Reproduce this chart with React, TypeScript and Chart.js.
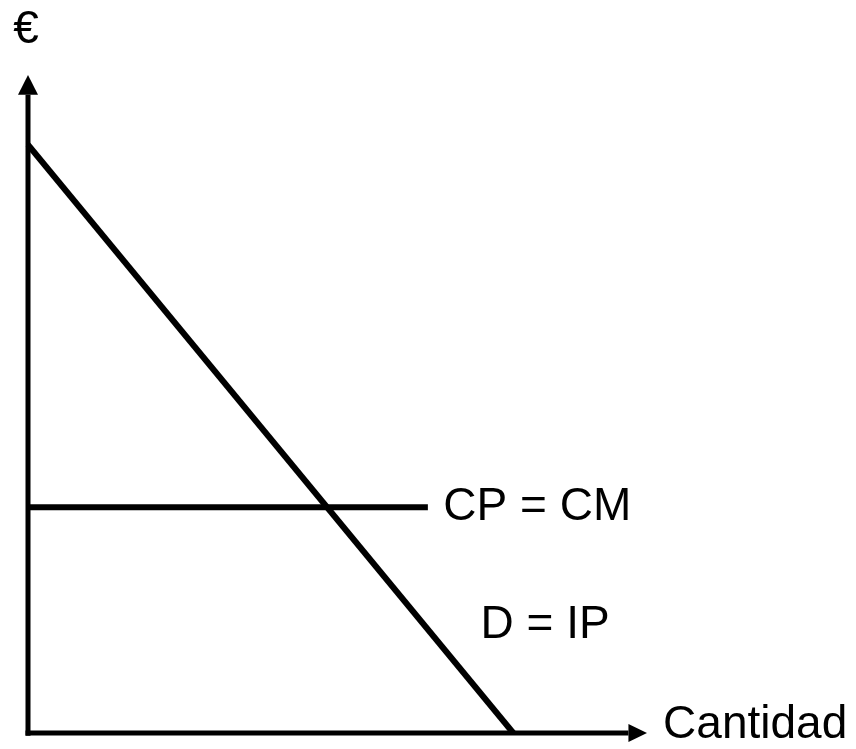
import React, { useEffect, useRef } from "react";
import { Chart, registerables } from "chart.js";

Chart.register(...registerables);

// Demand line D = IP
const demandX = [0, 78.4];
const demandY = [89.4, 0];
// Horizontal cost line CP = CM
const costX = [0, 64.6];
const costY = [34.3, 34.3];
// Axes
const axisMax = 100;
const arrowBase = 97;

const labelTexts = ["CP = CM", "D = IP", "Cantidad", "€"];
const labelX = [67.1, 73.1, 102.6, -2.4];
const labelY = [34.3, 16.4, 1.1, 106.8];

const FONT = '46px "Liberation Sans", Arial, sans-serif';

export default function App() {
  const ref = useRef<HTMLCanvasElement>(null);
  useEffect(() => {
    const canvas = ref.current!;
    const toPts = (xs: number[], ys: number[]) => xs.map((x, i) => ({ x, y: ys[i] }));

    const overlay = {
      id: "overlay",
      afterDatasetsDraw(chart: any) {
        const { ctx, scales } = chart;
        const sx = scales.x;
        const sy = scales.y;
        ctx.save();
        ctx.fillStyle = "#000";
        // y arrowhead
        const ox = sx.getPixelForValue(0);
        const oy = sy.getPixelForValue(0);
        const yTip = sy.getPixelForValue(axisMax);
        const yBase = sy.getPixelForValue(arrowBase);
        ctx.beginPath();
        ctx.moveTo(ox, yTip);
        ctx.lineTo(ox - 10, yBase);
        ctx.lineTo(ox + 10, yBase);
        ctx.closePath();
        ctx.fill();
        // x arrowhead
        const xTip = sx.getPixelForValue(axisMax);
        const xBase = sx.getPixelForValue(arrowBase);
        ctx.beginPath();
        ctx.moveTo(xTip, oy);
        ctx.lineTo(xBase, oy - 9);
        ctx.lineTo(xBase, oy + 9);
        ctx.closePath();
        ctx.fill();
        // labels
        ctx.font = FONT;
        ctx.textAlign = "left";
        ctx.textBaseline = "middle";
        labelTexts.forEach((t, i) => {
          ctx.fillText(t, sx.getPixelForValue(labelX[i]), sy.getPixelForValue(labelY[i]));
        });
        ctx.restore();
      },
    };

    const lineDs = (data: any[], w: number) => ({
      data,
      borderColor: "#000",
      borderWidth: w,
      pointRadius: 0,
      fill: false,
      tension: 0,
      clip: false as any,
      borderCapStyle: "butt" as const,
    });

    const chart = new Chart(canvas, {
      type: "line",
      data: {
        datasets: [
          lineDs(toPts([0, 0], [-0.4, arrowBase]), 5),
          lineDs(toPts([-0.4, arrowBase], [0, 0]), 5),
          lineDs(toPts(demandX, demandY), 6),
          lineDs(toPts(costX, costY), 6),
        ],
      },
      options: {
        animation: false,
        responsive: false,
        layout: { padding: { left: 28, top: 75, right: 209, bottom: 16 } },
        plugins: { legend: { display: false }, tooltip: { enabled: false } },
        scales: {
          x: { type: "linear", min: 0, max: axisMax, display: false },
          y: { type: "linear", min: 0, max: axisMax, display: false },
        },
      },
      plugins: [overlay],
    });
    return () => chart.destroy();
  }, []);

  return (
    <div style={{ position: "fixed", left: 0, top: 0, width: 856, height: 749, background: "#fff" }}>
      <canvas ref={ref} width={856} height={749} style={{ width: 856, height: 749, display: "block" }} />
    </div>
  );
}
